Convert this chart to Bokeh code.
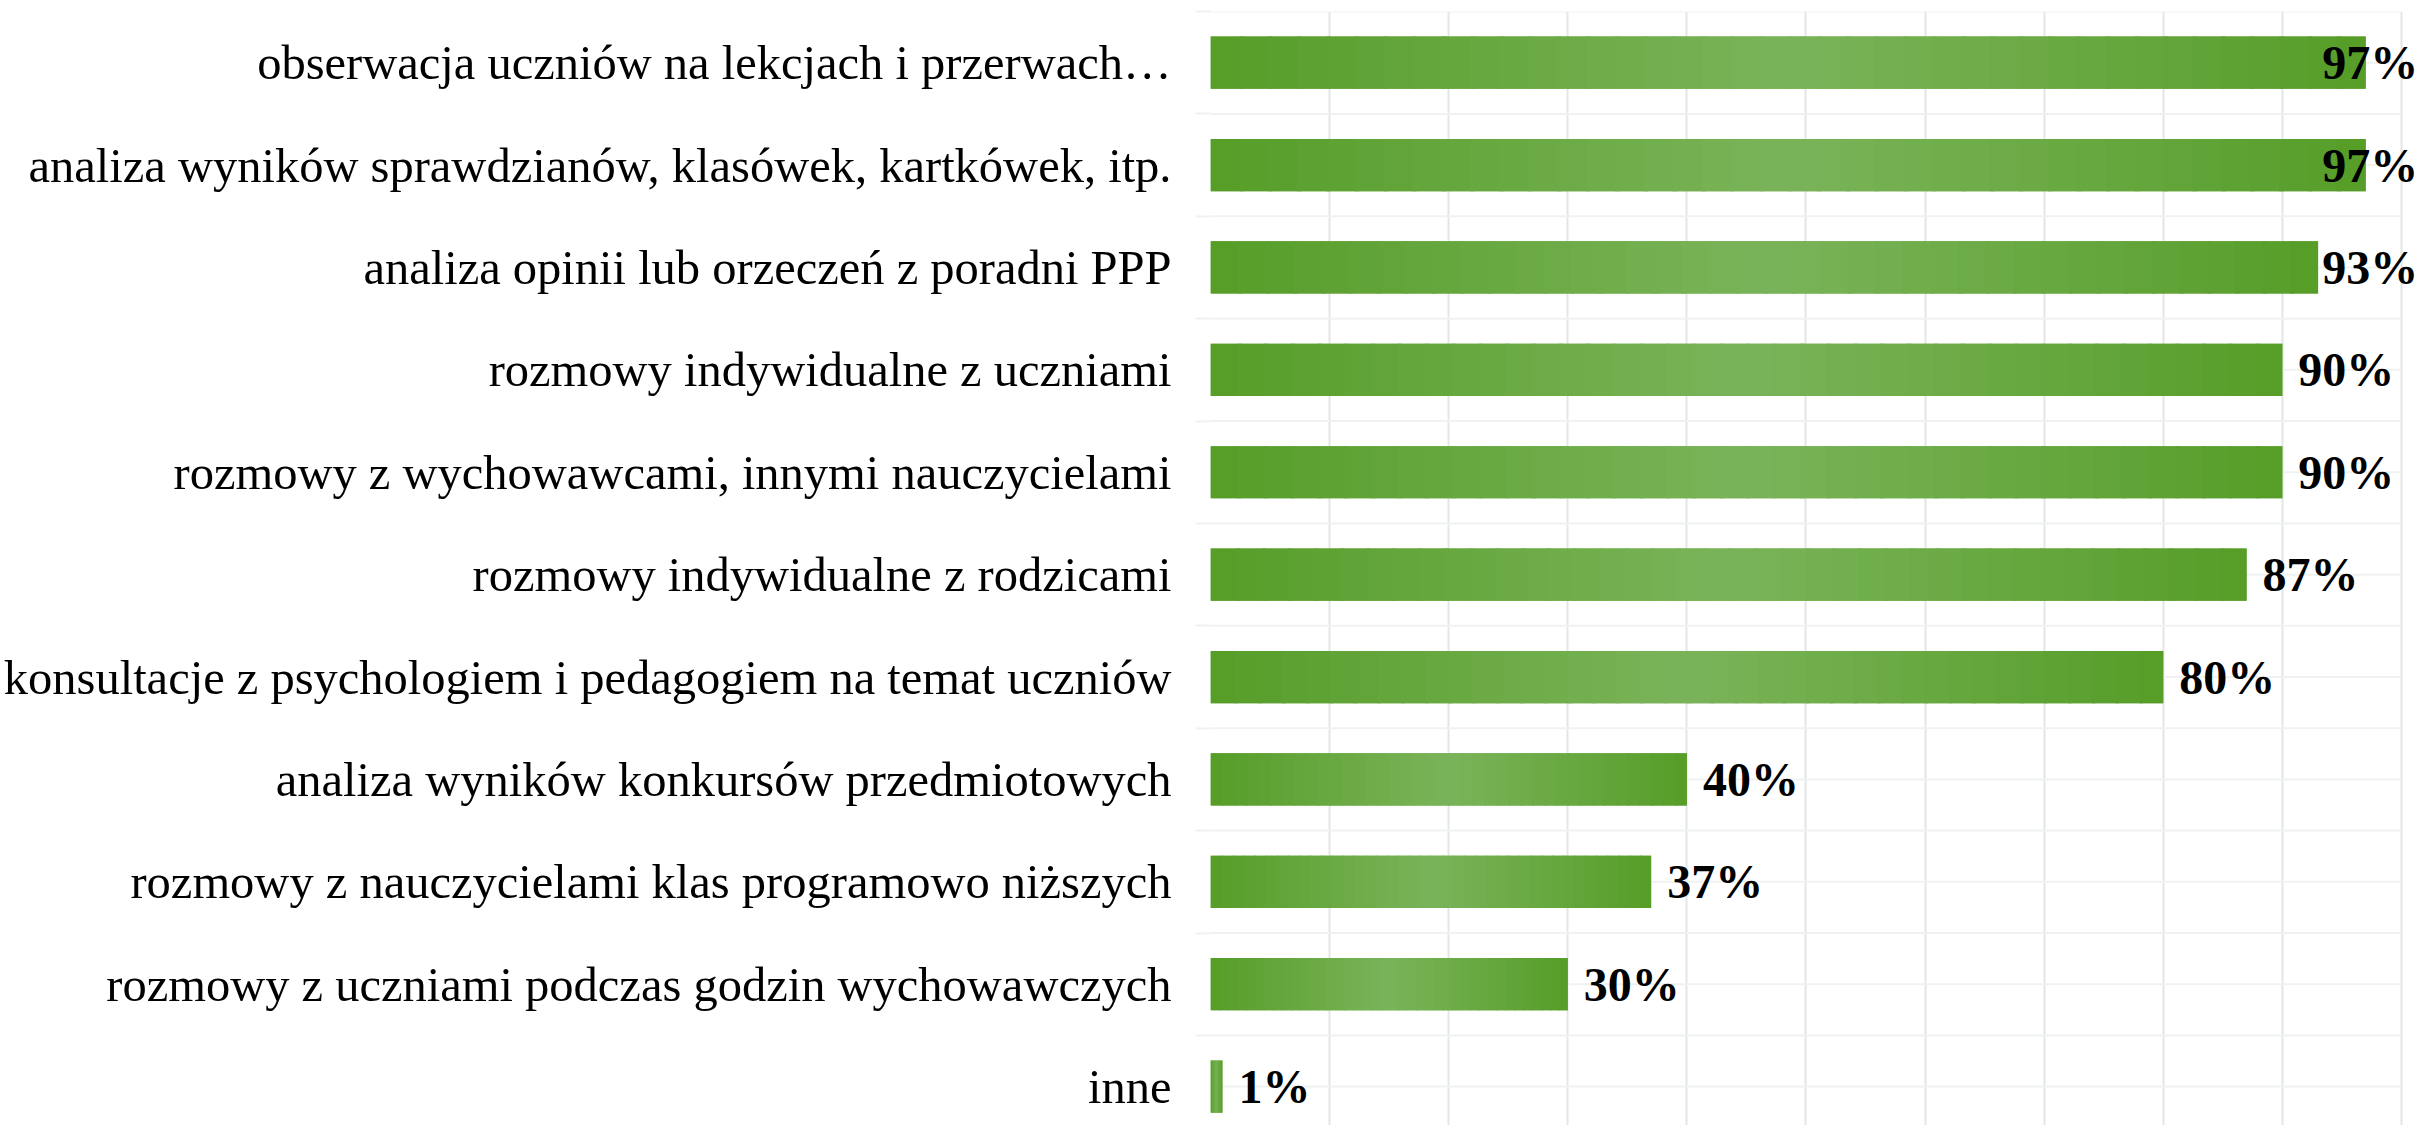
from bokeh.plotting import figure
from bokeh.models import Range1d, FixedTicker, ColumnDataSource, LabelSet
from bokeh.core.properties import value
from bokeh.embed import file_html
from bokeh.resources import INLINE

categories = [
    "obserwacja uczniów na lekcjach i przerwach…",
    "analiza wyników sprawdzianów, klasówek, kartkówek, itp.",
    "analiza opinii lub orzeczeń z poradni PPP",
    "rozmowy indywidualne z uczniami",
    "rozmowy z wychowawcami, innymi nauczycielami",
    "rozmowy indywidualne z rodzicami",
    "konsultacje z psychologiem i pedagogiem na temat uczniów",
    "analiza wyników konkursów przedmiotowych",
    "rozmowy z nauczycielami klas programowo niższych",
    "rozmowy z uczniami podczas godzin wychowawczych",
    "inne",
]
values = [97, 97, 93, 90, 90, 87, 80, 40, 37, 30, 1]
value_labels = ["97%", "97%", "93%", "90%", "90%", "87%", "80%", "40%", "37%", "30%", "1%"]
x_ticks = list(range(0, 101, 10))
x_max = 100

EDGE = (86, 157, 40)
CENTER = (122, 180, 90)
N_SLICES = 40
LABEL_MAX = 92.0
GRID_V = "#e1e7e5"
GRID_H = "#f0f2f1"
FONT = "Liberation Serif"

n = len(categories)
ypos = list(range(n))

p = figure(width=2420, height=1125, output_backend="svg", toolbar_location=None,
           x_range=Range1d(0, 101.6), y_range=Range1d(start=n - 0.62, end=-0.5),
           x_axis_location=None, min_border_left=1206, min_border_right=0,
           min_border_top=11, min_border_bottom=0)
p.outline_line_color = None
p.background_fill_color = "white"

def mix(t):
    c = tuple(int(round(EDGE[j] + (CENTER[j] - EDGE[j]) * t)) for j in range(3))
    return "#%02x%02x%02x" % c

# horizontal grid lines (bounded to the 0..100 scale)
hy = [i * 0.5 - 0.5 for i in range(2 * n + 1)]
p.segment(x0=[0] * len(hy), x1=[x_max] * len(hy), y0=hy, y1=hy,
          line_color=GRID_H, line_width=2)

# base bars
p.hbar(y=ypos, left=0, right=values, height=0.51, fill_color=mix(0.5), line_color=None)
# gradient slices
ys, ls, rs, cs = [], [], [], []
for i, v in enumerate(values):
    for k in range(N_SLICES):
        t = 1 - abs(2 * (k + 0.5) / N_SLICES - 1)
        ys.append(i)
        ls.append(v * k / N_SLICES)
        rs.append(min(v, v * (k + 1.15) / N_SLICES))
        cs.append(mix(t))
p.hbar(y=ys, left=ls, right=rs, height=0.51, fill_color=cs, line_color=None)

# value labels
src = ColumnDataSource(dict(x=[min(v, LABEL_MAX) for v in values], y=ypos, t=value_labels))
labels = LabelSet(x="x", y="y", text="t", source=src, x_offset=16,
                  text_align="left", text_baseline="middle",
                  text_font=value(FONT), text_font_style="bold",
                  text_font_size="48px", text_color="black")
p.add_layout(labels)

# vertical grid
p.xgrid.ticker = FixedTicker(ticks=x_ticks)
p.xgrid.grid_line_color = GRID_V
p.xgrid.grid_line_width = 2
p.ygrid.grid_line_color = None

# y axis with category labels
ya = p.yaxis[0]
ya.ticker = FixedTicker(ticks=ypos, minor_ticks=[i - 0.5 for i in range(n + 1)])
ya.major_label_overrides = {i: c for i, c in enumerate(categories)}
ya.major_label_text_font = FONT
ya.major_label_text_font_size = "48.5px"
ya.major_label_text_color = "black"
ya.major_label_standoff = 24
ya.major_tick_line_color = None
ya.major_tick_out = 0
ya.major_tick_in = 0
ya.minor_tick_out = 15
ya.minor_tick_in = 0
ya.minor_tick_line_color = GRID_H
ya.minor_tick_line_width = 2
ya.axis_line_color = None

open("out.html", "w").write(file_html(p, INLINE))
